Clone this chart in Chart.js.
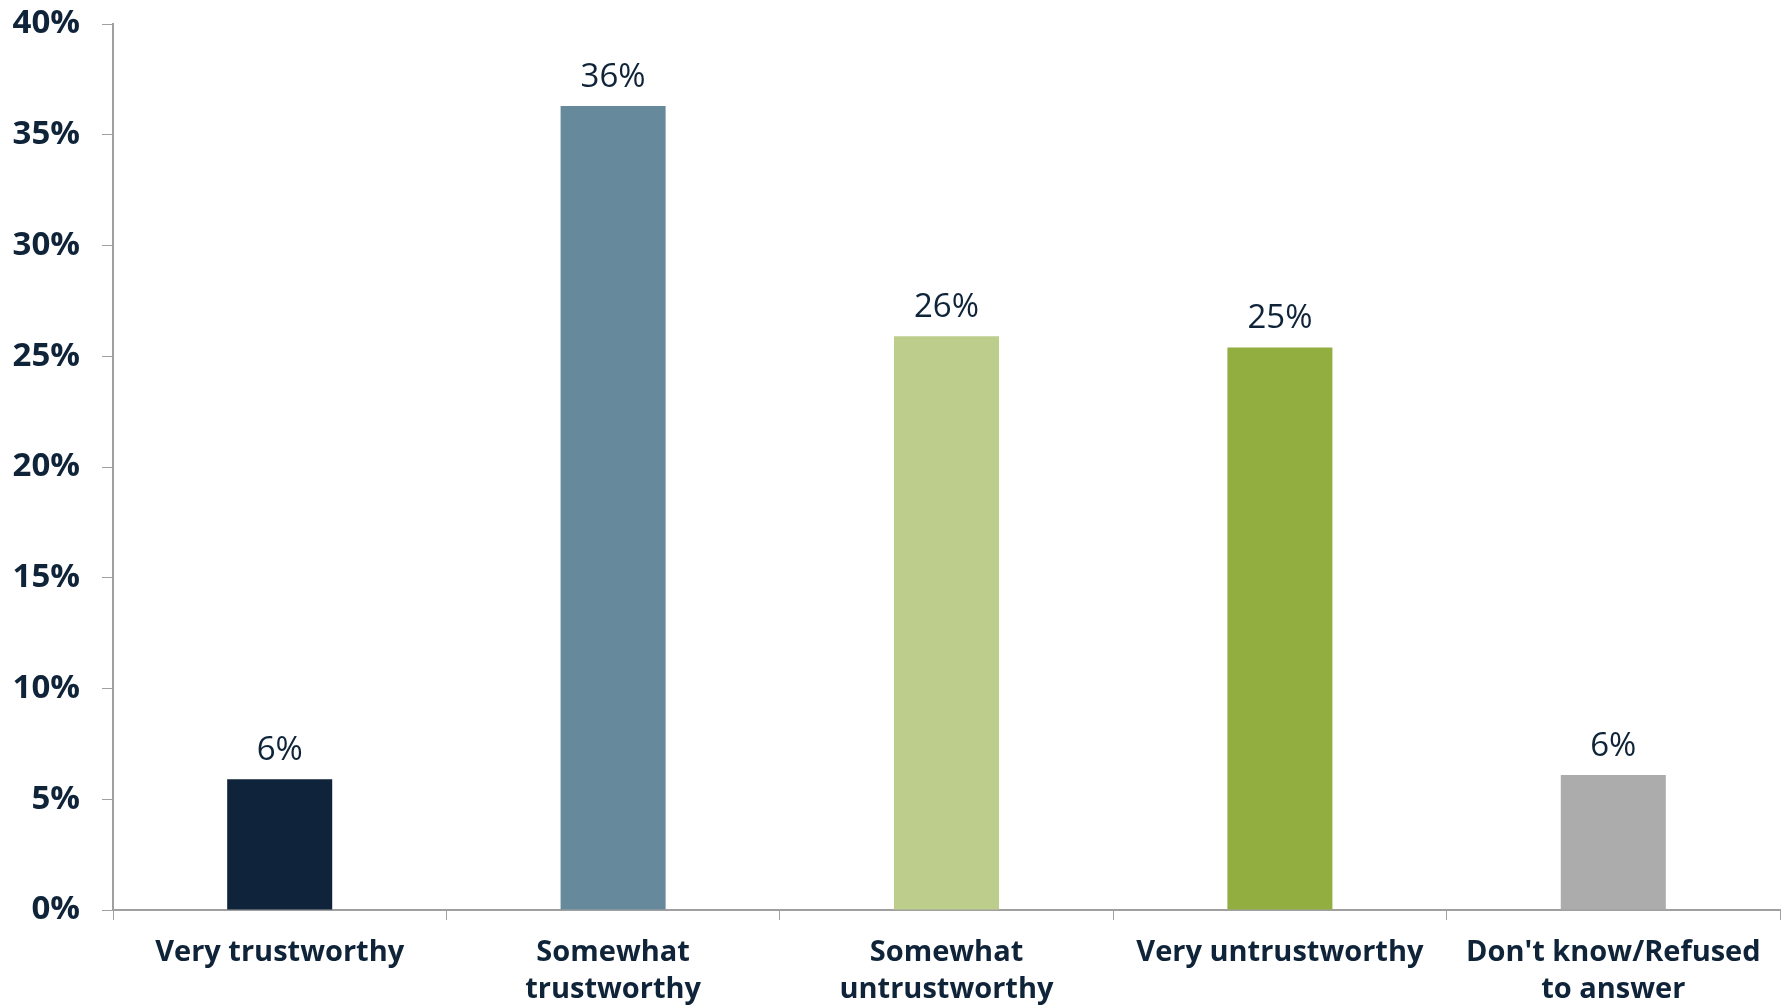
<!DOCTYPE html>
<html>
<head>
    <title>Trustworthiness</title>
    <script src="https://cdn.jsdelivr.net/npm/chart.js"></script>
    <style>
        body { margin: 0; background: #fff; }
        #wrap { width: 1787px; height: 1006px; }
    </style>
</head>
<body>
    <div id="wrap"><canvas id="myChart"></canvas></div>
    <script>
        var categories = [
            'Very trustworthy',
            ['Somewhat', 'trustworthy'],
            ['Somewhat', 'untrustworthy'],
            'Very untrustworthy',
            ["Don't know/Refused", 'to answer']
        ];
        var values = [5.9, 36.3, 25.9, 25.4, 6.1];
        var valueLabels = ['6%', '36%', '26%', '25%', '6%'];
        var barColors = ['#0f233a', '#67899c', '#bdcd8b', '#92ae40', '#acacad'];

        var navy = '#0f2339';
        var font = "'Open Sans', sans-serif";

        // draws the % numbers above each bar
        var valueLabelPlugin = {
            id: 'valueLabels',
            afterDatasetsDraw: function(chart) {
                var ctx = chart.ctx;
                var meta = chart.getDatasetMeta(0);
                ctx.save();
                ctx.fillStyle = navy;
                ctx.font = '33px ' + font;
                ctx.textAlign = 'center';
                ctx.textBaseline = 'bottom';
                meta.data.forEach(function(bar, i) {
                    ctx.fillText(valueLabels[i], bar.x, bar.y - 12);
                });
                ctx.restore();
            }
        };

        var ctx = document.getElementById('myChart').getContext('2d');
        var myChart = new Chart(ctx, {
            type: 'bar',
            data: {
                labels: categories,
                datasets: [{
                    data: values,
                    backgroundColor: barColors,
                    barPercentage: 0.63,
                    categoryPercentage: 0.5
                }]
            },
            options: {
                responsive: true,
                maintainAspectRatio: false,
                animation: false,
                layout: { padding: { top: 24, right: 7 } },
                plugins: {
                    legend: { display: false },
                    tooltip: { enabled: false }
                },
                scales: {
                    x: {
                        grid: {
                            drawOnChartArea: false,
                            color: '#a0a0a0',
                            tickLength: 10
                        },
                        border: { color: '#a0a0a0', width: 2 },
                        ticks: {
                            color: navy,
                            font: { family: font, size: 29, weight: 'bold', lineHeight: 1.28 },
                            padding: 14,
                            maxRotation: 0,
                            autoSkip: false
                        },
                        afterFit: function(scale) { scale.height = 96; }
                    },
                    y: {
                        min: 0,
                        max: 40,
                        grid: {
                            drawOnChartArea: false,
                            color: '#a0a0a0',
                            tickLength: 11
                        },
                        border: { color: '#a0a0a0', width: 2 },
                        ticks: {
                            stepSize: 5,
                            color: navy,
                            padding: 22,
                            font: { family: font, size: 33, weight: 'bold' },
                            callback: function(v) { return v + '%'; }
                        },
                        afterFit: function(scale) {
                            scale.width = 113;
                            scale.paddingTop = 0;
                            scale.paddingBottom = 0;
                        }
                    }
                }
            },
            plugins: [valueLabelPlugin]
        });
    </script>
</body>
</html>
